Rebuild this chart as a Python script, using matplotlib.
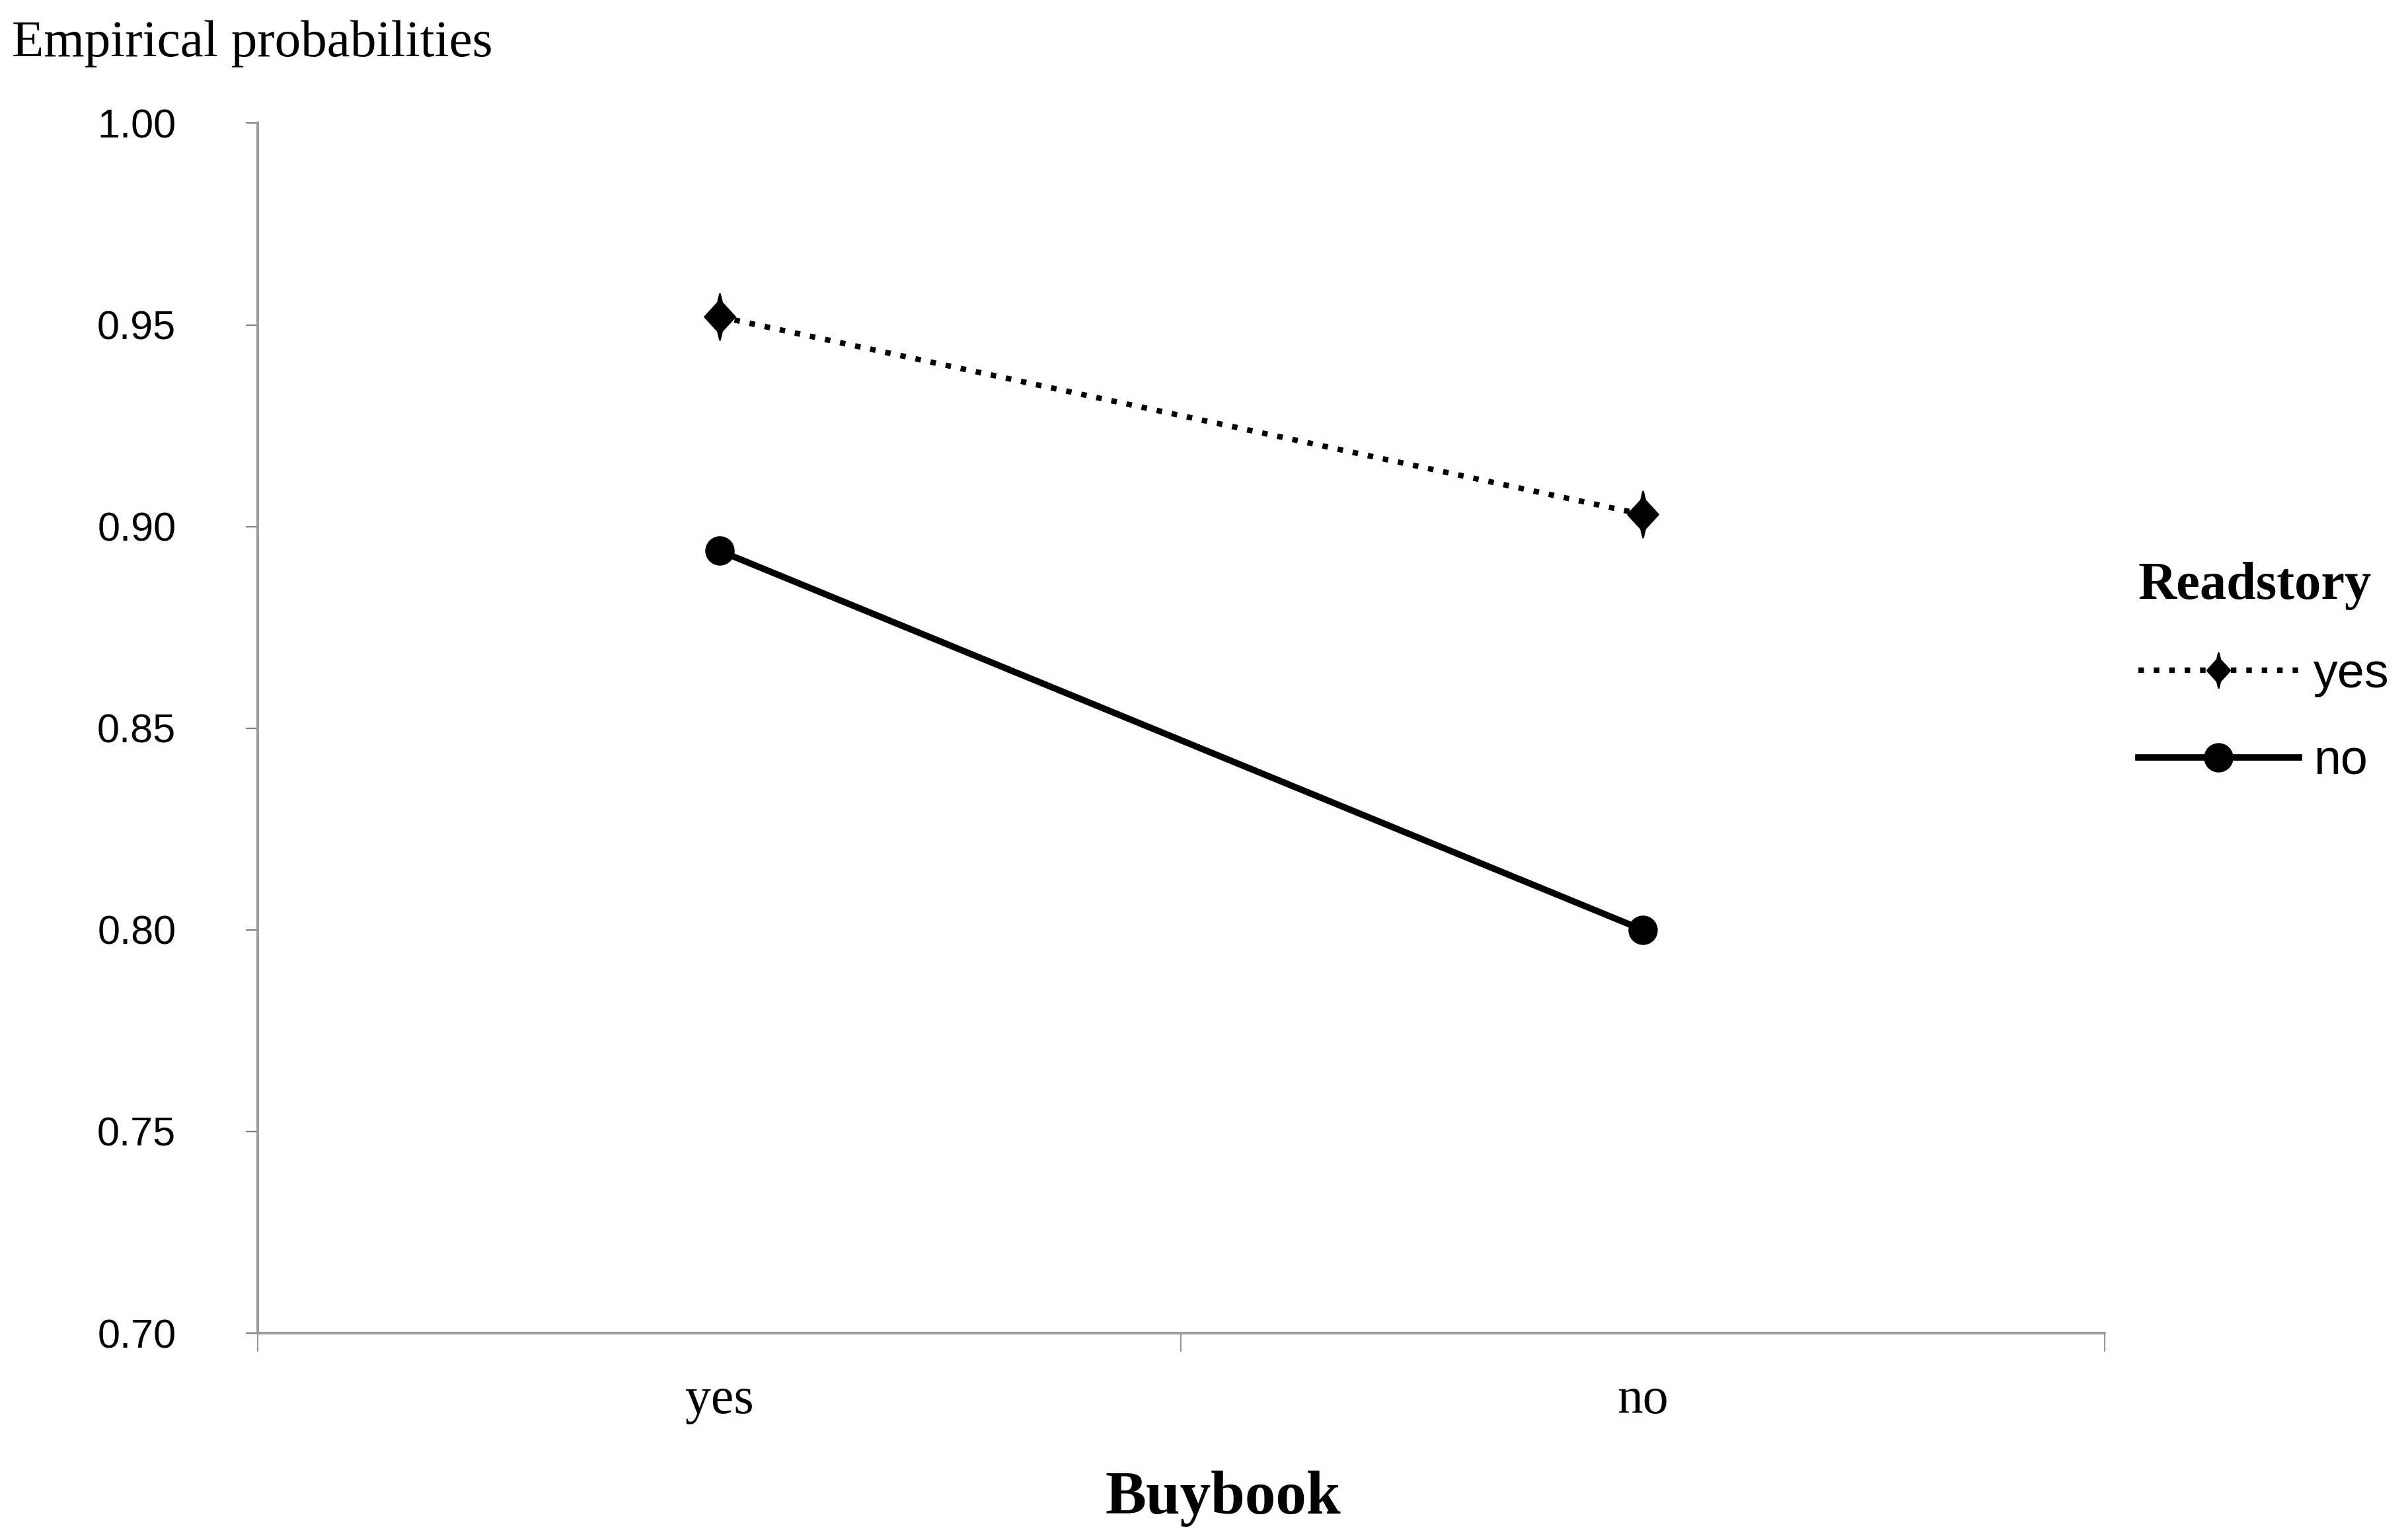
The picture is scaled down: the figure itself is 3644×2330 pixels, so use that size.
import matplotlib.pyplot as plt
from matplotlib.path import Path

# values
buybook = ["yes", "no"]
readstory_yes = [0.952, 0.903]
readstory_no = [0.894, 0.800]
legend_labels = ["yes", "no"]
y_ticks = [0.70, 0.75, 0.80, 0.85, 0.90, 0.95, 1.00]

axis_grey = "#9a9a9a"
serif = ["Liberation Serif", "DejaVu Serif"]
sans = ["Liberation Sans", "DejaVu Sans"]

# diamond with short vertical spikes, like the original marker
spike = Path([(0, 1), (0.09, 0.62), (0.66, 0), (0.09, -0.62), (0, -1),
              (-0.09, -0.62), (-0.66, 0), (-0.09, 0.62), (0, 1)],
             closed=True)

fig = plt.figure(figsize=(18.22, 11.65), dpi=200)
ax = fig.add_axes([0.107, 0.1343, 0.767, 0.7857])

x = list(range(len(buybook)))
ax.plot(x, readstory_yes, color="black", lw=3.0, linestyle=(0, (1, 1.8)),
        marker=spike, markersize=25, label=legend_labels[0])
ax.plot(x, readstory_no, color="black", lw=3.5, linestyle="-",
        marker="o", markersize=15, label=legend_labels[1])

ax.set_xlim(-0.5, 1.5)
ax.set_ylim(0.70, 1.00)

for s in ["top", "right"]:
    ax.spines[s].set_visible(False)
for s in ["left", "bottom"]:
    ax.spines[s].set_color(axis_grey)
    ax.spines[s].set_linewidth(1.4)

ax.set_yticks(y_ticks)
ax.set_yticklabels([f"{v:.2f}" for v in y_ticks], family=sans, fontsize=22)
ax.tick_params(axis="y", direction="out", length=6.5, width=0.8,
               color="#808080", pad=38)

# category boundaries get the tick marks, labels sit at the categories
ax.set_xticks([-0.5, 0.5, 1.5])
ax.set_xticklabels([])
ax.set_xticks(x, minor=True)
ax.set_xticklabels(buybook, minor=True, family=serif, fontsize=28)
ax.tick_params(axis="x", which="major", direction="out", length=10,
               width=0.6, color="#808080")
ax.tick_params(axis="x", which="minor", length=0, pad=24)

fig.text(0.005, 0.987, "Empirical probabilities", family=serif,
         fontsize=28.5, va="top", ha="left")
fig.text(0.508, 0.027, "Buybook", family=serif, fontweight="bold",
         fontsize=33.5, va="center", ha="center")

leg = ax.legend(loc="upper left", bbox_to_anchor=(0.888, 0.635),
                bbox_transform=fig.transFigure, frameon=False,
                title="Readstory", handlelength=3.3, handletextpad=0.3,
                labelspacing=0.85, borderpad=0, borderaxespad=0,
                prop={"family": sans, "size": 26.5})
leg.get_title().set_fontfamily(serif)
leg.get_title().set_fontweight("bold")
leg.get_title().set_fontsize(29)
leg._legend_box.align = "left"
leg.legend_handles[0].set_markersize(19)

fig.savefig("out.png", dpi=200, facecolor="white")
